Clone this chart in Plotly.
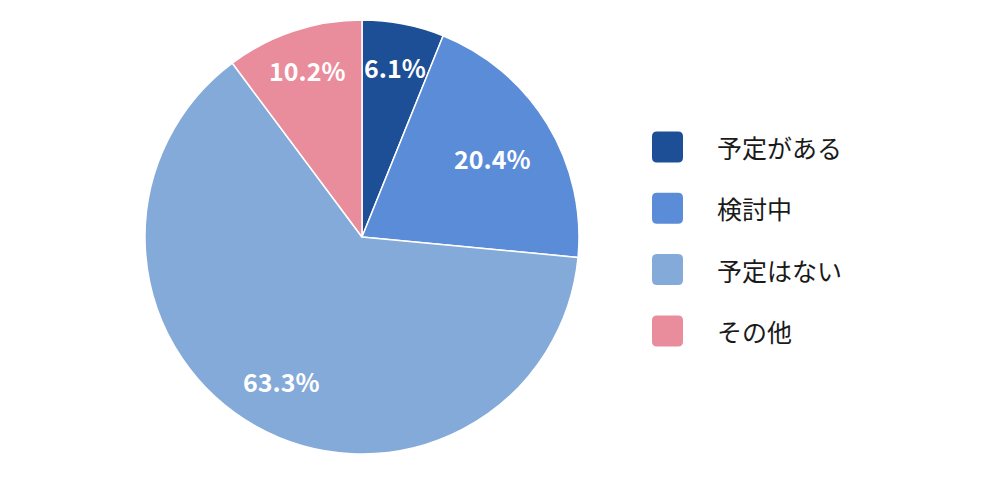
import math
import plotly.graph_objects as go

# data
labels = ['予定がある', '検討中', '予定はない', 'その他']
values = [6.1, 20.4, 63.3, 10.2]
colors = ['#1D4F97', '#5B8CD8', '#84AAD9', '#E98C9B']
label_r = [0.80, 0.70, 0.76, 0.81]   # label distance from centre, fraction of radius

W, H = 1000, 489
cx, cy, R = 362, 237, 217   # pie centre / radius in px

fig = go.Figure()
fig.add_trace(go.Pie(
    labels=labels, values=values, sort=False, direction='clockwise', rotation=0,
    marker=dict(colors=colors, line=dict(color='white', width=1.5)),
    textinfo='none', hoverinfo='label+percent', showlegend=False,
    domain=dict(x=[(cx - R) / W, (cx + R) / W], y=[1 - (cy + R) / H, 1 - (cy - R) / H]),
))

# percentage labels at the middle angle of each slice
total = sum(values)
cum = 0
for v, f in zip(values, label_r):
    mid = (cum + v / 2) / total * 2 * math.pi
    cum += v
    px = cx + f * R * math.sin(mid)
    py = cy - f * R * math.cos(mid)
    fig.add_annotation(x=px / W, y=1 - py / H, xref='paper', yref='paper',
                       xanchor='center', yanchor='middle',
                       text=f'{v:.1f}%', showarrow=False,
                       font=dict(family='Noto Sans CJK JP', size=25, color='white', weight='bold'))

# legend drawn by hand (rounded squares)
lx, ly0, gap, sz, rad = 652, 147, 61.3, 31, 5
for i, (lab, col) in enumerate(zip(labels, colors)):
    yc = ly0 + i * gap
    x0, x1 = lx / W, (lx + sz) / W
    y0, y1 = 1 - (yc + sz / 2) / H, 1 - (yc - sz / 2) / H
    rx, ry = rad / W, rad / H
    path = (f'M {x0+rx} {y0} L {x1-rx} {y0} Q {x1} {y0} {x1} {y0+ry} '
            f'L {x1} {y1-ry} Q {x1} {y1} {x1-rx} {y1} L {x0+rx} {y1} '
            f'Q {x0} {y1} {x0} {y1-ry} L {x0} {y0+ry} Q {x0} {y0} {x0+rx} {y0} Z')
    fig.add_shape(type='path', path=path, xref='paper', yref='paper',
                  fillcolor=col, line=dict(width=0))
    fig.add_annotation(x=715 / W, y=1 - yc / H, xref='paper', yref='paper',
                       text=lab, showarrow=False, xanchor='left', yanchor='middle',
                       font=dict(family='Noto Sans CJK JP', size=25, color='#1a1a1a'))

fig.update_layout(
    width=W, height=H,
    margin=dict(l=0, r=0, t=0, b=0),
    paper_bgcolor='white', plot_bgcolor='white',
)
# drop the default body margin so the figure sits flush in the window
fig.write_html('out.html', config={'displayModeBar': False},
               post_script="document.body.style.margin='0';")
